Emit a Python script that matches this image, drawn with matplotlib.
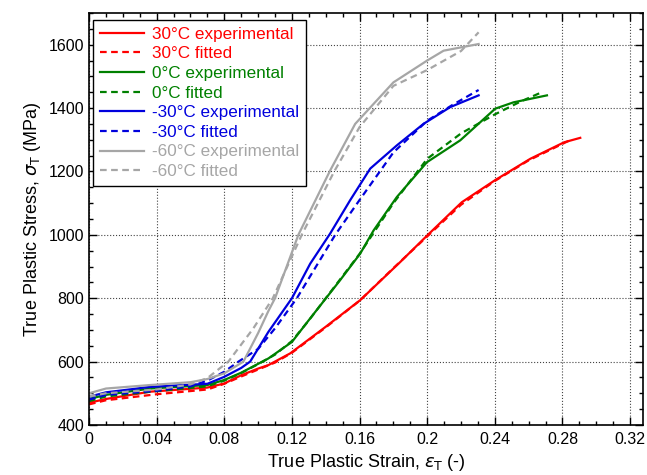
import numpy as np
import matplotlib
matplotlib.use('Agg')
from matplotlib import pyplot as plt
from matplotlib.ticker import MultipleLocator

plt.rcParams['font.family'] = ['Liberation Sans', 'DejaVu Sans']
plt.rcParams['mathtext.fontset'] = 'dejavusans'

# 30 C
red_exp_x = [0.0, 0.01, 0.036, 0.07, 0.08, 0.09, 0.10, 0.1061, 0.119, 0.14, 0.1604, 0.184, 0.20, 0.215, 0.2205, 0.24, 0.261, 0.281, 0.2905]
red_exp_y = [470, 482, 505, 518, 531, 557, 578, 589, 626, 710, 794, 914, 998, 1075, 1103, 1172, 1240, 1292, 1306]
red_fit_x = [0.0, 0.01, 0.04, 0.07, 0.08, 0.09, 0.10, 0.11, 0.12, 0.14, 0.16, 0.18, 0.20, 0.22, 0.24, 0.26, 0.285]
red_fit_y = [465, 478, 497, 512, 530, 553, 575, 597, 628, 708, 792, 895, 995, 1095, 1170, 1235, 1300]

# 0 C
green_exp_x = [0.0, 0.01, 0.036, 0.07, 0.08, 0.09, 0.1061, 0.12, 0.13, 0.1485, 0.1604, 0.1683, 0.182, 0.1998, 0.2195, 0.2402, 0.251, 0.2708]
green_exp_y = [482, 495, 515, 526, 542, 565, 610, 662, 731, 857, 941, 1014, 1119, 1229, 1298, 1398, 1418, 1440]
green_fit_x = [0.0, 0.01, 0.04, 0.07, 0.08, 0.09, 0.10, 0.11, 0.12, 0.13, 0.14, 0.16, 0.18, 0.20, 0.22, 0.24, 0.255, 0.2678]
green_fit_y = [475, 490, 507, 522, 540, 564, 592, 622, 665, 730, 800, 940, 1100, 1240, 1320, 1380, 1420, 1450]

# -30 C
blue_exp_x = [0.0, 0.01, 0.036, 0.07, 0.08, 0.09, 0.0953, 0.1061, 0.12, 0.1308, 0.1426, 0.1544, 0.1663, 0.182, 0.1978, 0.2136, 0.2304]
blue_exp_y = [489, 503, 520, 530, 552, 580, 600, 694, 800, 909, 1004, 1109, 1209, 1282, 1350, 1403, 1440]
blue_fit_x = [0.0, 0.01, 0.04, 0.06, 0.07, 0.08, 0.0884, 0.10, 0.11, 0.1229, 0.1456, 0.16, 0.18, 0.20, 0.215, 0.2304]
blue_fit_y = [480, 495, 508, 522, 540, 568, 600, 640, 705, 800, 1000, 1110, 1260, 1360, 1410, 1457]

# -60 C
gray_exp_x = [0.0, 0.01, 0.036, 0.06, 0.07, 0.08, 0.0913, 0.10, 0.1061, 0.11, 0.1238, 0.1426, 0.1574, 0.18, 0.20, 0.2097, 0.2304]
gray_exp_y = [500, 515, 526, 535, 545, 563, 600, 690, 760, 800, 1000, 1203, 1350, 1481, 1550, 1581, 1602]
gray_fit_x = [0.0, 0.01, 0.04, 0.06, 0.07, 0.0824, 0.0972, 0.1087, 0.1258, 0.145, 0.16, 0.18, 0.20, 0.22, 0.2304]
gray_fit_y = [490, 500, 512, 528, 548, 600, 705, 800, 1000, 1200, 1340, 1470, 1520, 1580, 1639]

series = [
    ('30°C', 'red', red_exp_x, red_exp_y, red_fit_x, red_fit_y),
    ('0°C', 'green', green_exp_x, green_exp_y, green_fit_x, green_fit_y),
    ('-30°C', '#0000dd', blue_exp_x, blue_exp_y, blue_fit_x, blue_fit_y),
    ('-60°C', '#a6a6a6', gray_exp_x, gray_exp_y, gray_fit_x, gray_fit_y),
]

x_ticks = [0, 0.04, 0.08, 0.12, 0.16, 0.2, 0.24, 0.28, 0.32]
x_tick_labels = ['0', '0.04', '0.08', '0.12', '0.16', '0.2', '0.24', '0.28', '0.32']
y_ticks = [400, 600, 800, 1000, 1200, 1400, 1600]

fig = plt.figure(figsize=(6.47, 4.75), dpi=100)
ax = fig.add_axes([0.1376, 0.1053, 0.8562, 0.8674])

for name, color, ex, ey, fx, fy in series:
    ax.plot(ex, ey, color=color, lw=1.6, ls='-', label=name + ' experimental')
    ax.plot(fx, fy, color=color, lw=1.6, ls=(0, (3, 2)), label=name + ' fitted')

ax.set_xlim(0, 0.3276)
ax.set_ylim(400, 1700)
ax.set_xticks(x_ticks)
ax.set_xticklabels(x_tick_labels)
ax.set_yticks(y_ticks)
ax.xaxis.set_minor_locator(MultipleLocator(0.01))
ax.yaxis.set_minor_locator(MultipleLocator(50))
ax.tick_params(which='both', direction='in', top=True, right=True, labelsize=11.5, width=1)
ax.tick_params(which='major', length=6)
ax.tick_params(which='minor', length=3)
ax.tick_params(axis='x', pad=5)
for sp in ax.spines.values():
    sp.set_linewidth(1.2)
ax.grid(True, which='major', ls=':', color='#444444', lw=0.8)

ax.set_xlabel(r'True Plastic Strain, $\varepsilon_\mathrm{T}$ (-)', fontsize=13)
ax.set_ylabel(r'True Plastic Stress, $\sigma_\mathrm{T}$ (MPa)', fontsize=13)

leg = ax.legend(loc='upper left', bbox_to_anchor=(0.007, 0.983), borderaxespad=0,
                fontsize=12.3, handlelength=2.6, labelspacing=0.27, borderpad=0.4,
                fancybox=False, framealpha=1, edgecolor='black', handletextpad=0.45)
leg.get_frame().set_linewidth(1)
for text, line in zip(leg.get_texts(), leg.get_lines()):
    text.set_color(line.get_color())

fig.savefig('out.png', dpi=100)
